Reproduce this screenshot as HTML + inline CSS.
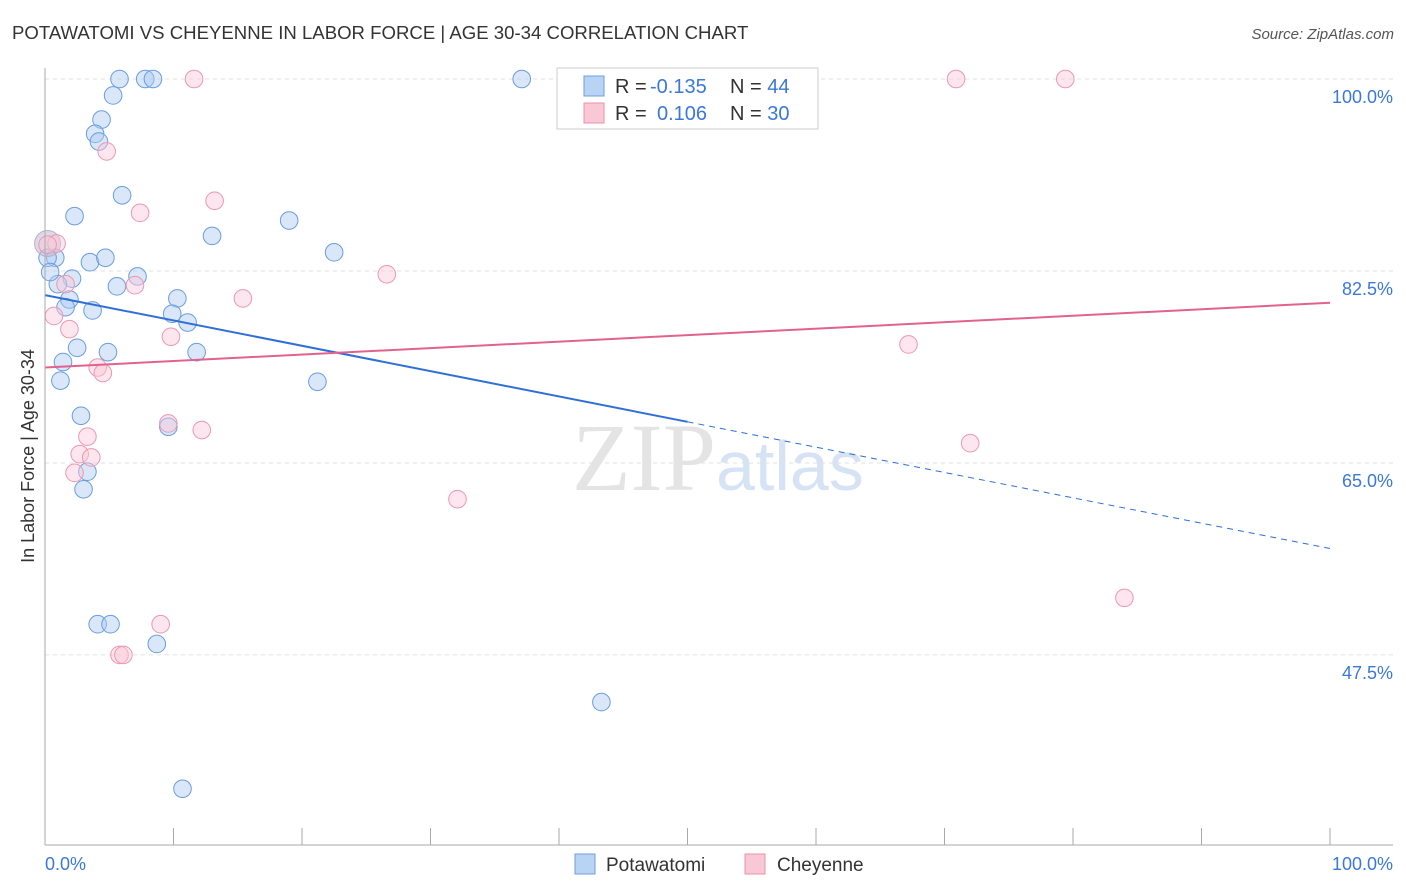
<!DOCTYPE html>
<html><head><meta charset="utf-8"><style>
body{margin:0;background:#fff;font-family:"Liberation Sans",sans-serif;}
</style></head><body>
<svg width="1406" height="892" id="c" style="display:block">
<text x="12" y="39" font-size="18.6" fill="#333">POTAWATOMI VS CHEYENNE IN LABOR FORCE | AGE 30-34 CORRELATION CHART</text>
<text x="1394" y="39" font-size="15" fill="#555" font-style="italic" text-anchor="end">Source: ZipAtlas.com</text>
<text x="716" y="490" font-size="96" fill="#e4e4e4" font-family="Liberation Serif,serif" text-anchor="end">ZIP</text>
<text x="716" y="490" font-size="70" fill="#d6e3f5">atlas</text>
<g id="grid"></g><g id="pts"></g><g id="lines"></g>
<line x1="45" y1="68" x2="45" y2="845" stroke="#aaa"/>
<line x1="45" y1="845" x2="1393" y2="845" stroke="#aaa"/>
<text x="45" y="870" font-size="18" fill="#3b78d8">0.0%</text>
<text x="1393" y="870" font-size="18" fill="#3b78d8" text-anchor="end">100.0%</text>
<text transform="translate(34,456) rotate(-90)" font-size="18" fill="#333" text-anchor="middle">In Labor Force | Age 30-34</text>
<g>
<rect x="557" y="68" width="261" height="61" fill="#fff" stroke="#ccc"/>
<rect x="584" y="76" width="20" height="20" fill="#b9d3f5" stroke="#6d9de0"/>
<rect x="584" y="103" width="20" height="20" fill="#f9c8d6" stroke="#ec90ab"/>
<text x="615" y="93" font-size="20" fill="#333">R = <tspan x="650" fill="#3b78d8">-0.135</tspan><tspan x="730">N = </tspan><tspan fill="#3b78d8">44</tspan></text>
<text x="615" y="120" font-size="20" fill="#333">R = <tspan x="657" fill="#3b78d8">0.106</tspan><tspan x="730">N = </tspan><tspan fill="#3b78d8">30</tspan></text>
</g>
<g>
<rect x="575" y="854" width="20" height="20" fill="#b9d3f5" stroke="#6d9de0"/>
<text x="606" y="871" font-size="19" fill="#333">Potawatomi</text>
<rect x="745" y="854" width="20" height="20" fill="#f9c8d6" stroke="#ec90ab"/>
<text x="777" y="871" font-size="19" fill="#333">Cheyenne</text>
</g>
</svg>
<script>
const yTicks=[100,82.5,65,47.5];
const blueX=[5.8,7.8,8.4,37.1,5.3,4.4,3.9,4.2,6.0,2.3,13.0,19.0,22.5,0.8,0.2,3.5,4.7,7.2,5.6,2.1,1.0,1.9,10.3,1.6,3.7,9.9,11.1,11.8,4.9,2.5,1.4,1.2,21.2,2.8,9.6,3.3,3.0,4.1,5.1,8.7,43.3,10.7,0.4,0.2];
const blueY=[100,100,100,100,98.5,96.3,95.0,94.3,89.4,87.5,85.7,87.1,84.2,83.7,83.7,83.3,83.7,82.0,81.1,81.8,81.3,79.9,80.0,79.2,78.9,78.6,77.8,75.1,75.1,75.5,74.2,72.5,72.4,69.3,68.3,64.2,62.6,50.3,50.3,48.5,43.2,35.3,82.4,85.0];
const pinkX=[11.6,70.9,79.4,4.8,13.2,7.4,0.9,26.6,7.0,15.4,1.6,0.7,1.9,9.8,67.2,4.1,4.5,9.6,12.2,3.3,2.7,3.6,2.3,32.1,72.0,84.0,9.0,5.8,6.1,0.2];
const pinkY=[100,100,100,93.4,88.9,87.8,85.0,82.2,81.2,80.0,81.3,78.4,77.2,76.5,75.8,73.7,73.2,68.6,68.0,67.4,65.8,65.5,64.1,61.7,66.8,52.7,50.3,47.5,47.5,84.9];
const blueTrend=[80.3,57.2];
const pinkTrend=[73.7,79.6];
const X=v=>45+v*12.85, Y=v=>79+(100-v)*10.97;
const NS='http://www.w3.org/2000/svg';
function mk(t,a,p){const e=document.createElementNS(NS,t);for(const k in a)e.setAttribute(k,a[k]);document.getElementById(p).appendChild(e);return e;}
yTicks.forEach(t=>{
 const l=mk('line',{x1:45,x2:1393,y1:Y(t),y2:Y(t),stroke:'#e2e2e2','stroke-dasharray':'4,4'},'grid');
 
 
 const tx=mk('text',{x:1393,y:Y(t)+24,'font-size':18,fill:'#3b78d8','text-anchor':'end'},'grid');
 tx.textContent=t.toFixed(1)+'%';
 
 
});
for(let i=0;i<=10;i++){
 const l=mk('line',{x1:X(i*10),x2:X(i*10),y1:828,y2:845,stroke:'#aaa'},'grid');
 
 
}
blueX.forEach((x,i)=>{
 const big=i==blueX.length-1;
 const c=mk('circle',{cx:X(x),cy:Y(blueY[i]),r:(big?13:8.8),fill:big?'rgba(190,180,210,0.5)':'rgba(170,202,242,0.45)',stroke:big?'#b8b0d0':'#6a9de0','stroke-width':1},'pts');
 
 
});
pinkX.forEach((x,i)=>{
 const c=mk('circle',{cx:X(x),cy:Y(pinkY[i]),r:8.8,fill:'rgba(250,200,214,0.45)',stroke:'#eb98b2','stroke-width':1},'pts');
 
 
});
const bm=blueTrend[0]+(blueTrend[1]-blueTrend[0])*0.5;
let l1=mk('line',{x1:X(0),y1:Y(blueTrend[0]),x2:X(50),y2:Y(bm),stroke:'#2f6fd6','stroke-width':2},'lines');


let l2=mk('line',{x1:X(50),y1:Y(bm),x2:X(100),y2:Y(blueTrend[1]),stroke:'#2f6fd6','stroke-width':1,'stroke-dasharray':'6,5'},'lines');


let l3=mk('line',{x1:X(0),y1:Y(pinkTrend[0]),x2:X(100),y2:Y(pinkTrend[1]),stroke:'#e2628d','stroke-width':2},'lines');


</script>
</body></html>
